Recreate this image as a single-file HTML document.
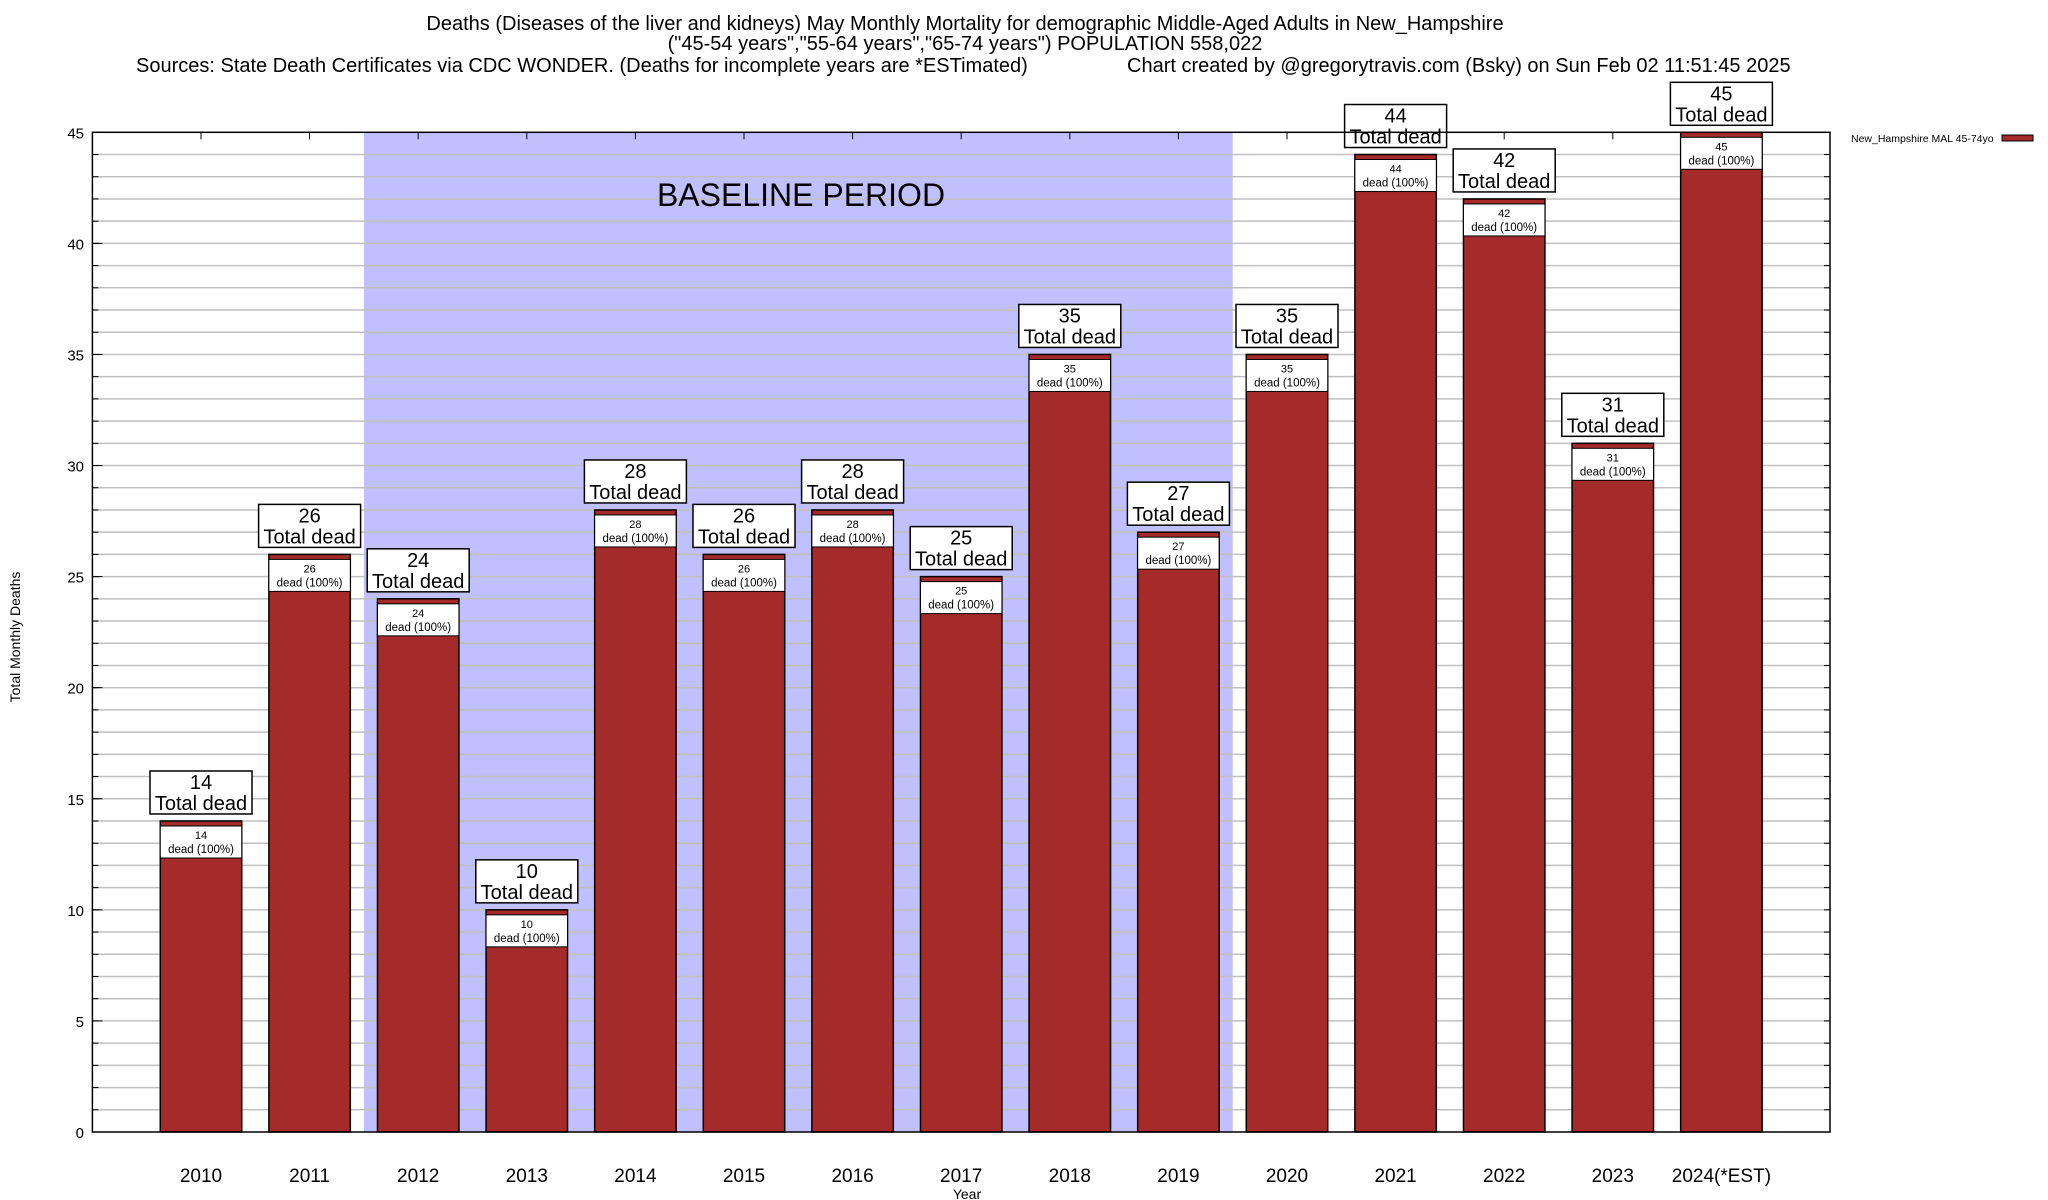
<!DOCTYPE html>
<html><head><meta charset="utf-8"><style>
body{margin:0;background:#fff}
svg{display:block;font-family:"Liberation Sans",sans-serif}
</style></head><body>
<svg id="chart" width="2048" height="1200" viewBox="0 0 2048 1200" xmlns="http://www.w3.org/2000/svg">
<rect width="2048" height="1200" fill="#fff"/>
<g font-size="20" text-anchor="middle">
<text x="965" y="30">Deaths (Diseases of the liver and kidneys) May Monthly Mortality for demographic Middle-Aged Adults in New_Hampshire</text>
<text x="965" y="50">("45-54 years","55-64 years","65-74 years") POPULATION 558,022</text>
<text x="136" y="72" text-anchor="start">Sources: State Death Certificates via CDC WONDER. (Deaths for incomplete years are *ESTimated)</text>
<text x="1127" y="72" text-anchor="start">Chart created by @gregorytravis.com (Bsky) on Sun Feb 02 11:51:45 2025</text>
</g>
<g id="plot"></g>
<text x="0" y="0" font-size="14" text-anchor="middle" transform="translate(20,637) rotate(-90)">Total Monthly Deaths</text>
<text x="967" y="1199" font-size="14" text-anchor="middle">Year</text>
<g>
<text x="1851" y="142" font-size="10.5">New_Hampshire MAL 45-74yo</text>
<rect x="2002" y="135" width="31" height="6" fill="#a52a2a" stroke="#000" stroke-width="1"/>
</g>
</svg>
<script>
const categories=["2010","2011","2012","2013","2014","2015","2016","2017","2018","2019","2020","2021","2022","2023","2024(*EST)"];
const deaths=[14,26,24,10,28,26,28,25,35,27,35,44,42,31,45];
const yTicks=[0,5,10,15,20,25,30,35,40,45];
const baseline=[1.5,9.5];
const NS="http://www.w3.org/2000/svg";
const L=92.4,R=1830,T=132.3,B=1132,yMax=45;
const slot=(R-L)/16;
const xs=i=>L+slot*(i+1);
const ys=v=>B-(v/yMax)*(B-T);
const g=document.getElementById('plot');
function mk(tag,attrs,parent){const e=document.createElementNS(NS,tag);for(const k in attrs)e.setAttribute(k,attrs[k]);(parent||g).appendChild(e);return e;}
const bl=mk('rect',{x:xs(baseline[0]-1)+slot,y:T,width:(baseline[1]-baseline[0])*slot,height:B-T,fill:'#c0c0fe'});


for(let v=1;v<yMax;v++){
 const ln=mk('line',{x1:L,x2:R,y1:ys(v),y2:ys(v),stroke:'#c0c0c0','stroke-width':1.5});
 
 
 mk('line',{x1:L,x2:L+6,y1:ys(v),y2:ys(v),stroke:'#000'});
 mk('line',{x1:R,x2:R-6,y1:ys(v),y2:ys(v),stroke:'#000'});
}
const bt=mk('text',{x:801,y:206,'font-size':32,'text-anchor':'middle'});
bt.textContent='BASELINE PERIOD';


yTicks.forEach(v=>{
 const t=mk('text',{x:84,y:ys(v)+6,'font-size':15,'text-anchor':'end'});
 t.textContent=v;
 
 
 mk('line',{x1:L,x2:L+10,y1:ys(v),y2:ys(v),stroke:'#000'});
});
const bw=slot*0.75;
categories.forEach((c,i)=>{
 const cx=xs(i),v=deaths[i],top=ys(v);
 mk('line',{x1:cx,x2:cx,y1:T,y2:T+7,stroke:'#000'});
 const bar=mk('rect',{x:cx-bw/2,y:top,width:bw,height:B-top,fill:'#a52a2a',stroke:'#000','stroke-width':1.5});
 
 
 const ib=mk('rect',{x:cx-bw/2,y:top+5,width:bw,height:32,fill:'#fff',stroke:'#000','stroke-width':1});
 
 
 const t1=mk('text',{x:cx,y:top+18,'font-size':11,'text-anchor':'middle'});t1.textContent=v;
 
 
 const t2=mk('text',{x:cx,y:top+32,'font-size':11.5,'text-anchor':'middle'});t2.textContent='dead (100%)';
 
 
 const ob=mk('rect',{x:cx-51,y:top-50,width:102,height:43,fill:'#fff',stroke:'#000','stroke-width':1.5});
 
 
 const t3=mk('text',{x:cx,y:top-32,'font-size':20,'text-anchor':'middle'});t3.textContent=v;
 
 
 const t4=mk('text',{x:cx,y:top-11,'font-size':20,'text-anchor':'middle'});t4.textContent='Total dead';
 
 
 const xl=mk('text',{x:cx,y:1182,'font-size':19,'text-anchor':'middle'});xl.textContent=c;
 
 
});
const fr=mk('rect',{x:L,y:T,width:R-L,height:B-T,fill:'none',stroke:'#000','stroke-width':1.5});


</script>
</body></html>
